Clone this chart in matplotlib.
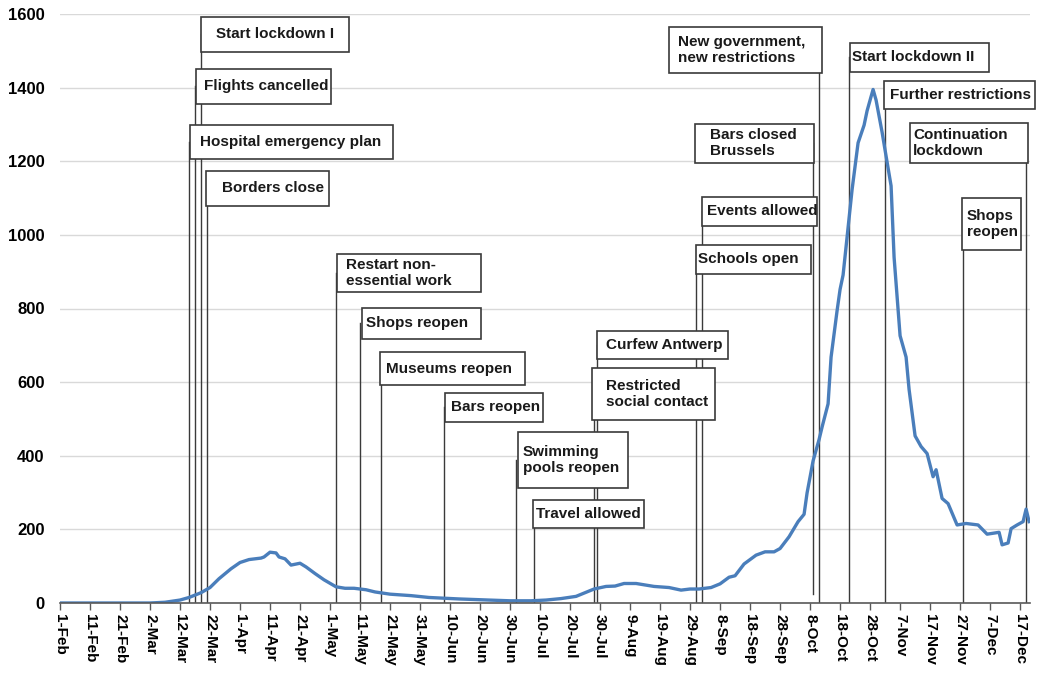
"""Daily COVID-19 curve (Belgium, 2020) with policy event annotations."""

import matplotlib
matplotlib.use("Agg")
import matplotlib.pyplot as plt
import matplotlib.dates as mdates
from matplotlib.patches import Rectangle
import pandas as pd

# --- data -------------------------------------------------------------
DATES = [
    "2020-02-01", "2020-03-02", "2020-03-07", "2020-03-12", "2020-03-15",
    "2020-03-19", "2020-03-22", "2020-03-25", "2020-03-29", "2020-04-01",
    "2020-04-04", "2020-04-08", "2020-04-09", "2020-04-11", "2020-04-13",
    "2020-04-14", "2020-04-16", "2020-04-18", "2020-04-21", "2020-04-23",
    "2020-04-26", "2020-04-29", "2020-05-03", "2020-05-06", "2020-05-09",
    "2020-05-13", "2020-05-16", "2020-05-21", "2020-05-28", "2020-06-03",
    "2020-06-13", "2020-06-23", "2020-06-30", "2020-07-07", "2020-07-12",
    "2020-07-17", "2020-07-22", "2020-07-25", "2020-07-28", "2020-08-01",
    "2020-08-04", "2020-08-07", "2020-08-11", "2020-08-14", "2020-08-17",
    "2020-08-22", "2020-08-26", "2020-08-29", "2020-09-01", "2020-09-05",
    "2020-09-08", "2020-09-11", "2020-09-13", "2020-09-16", "2020-09-20",
    "2020-09-23", "2020-09-26", "2020-09-28", "2020-10-01", "2020-10-04",
    "2020-10-06", "2020-10-07", "2020-10-09", "2020-10-11", "2020-10-12",
    "2020-10-14", "2020-10-15", "2020-10-17", "2020-10-18", "2020-10-19",
    "2020-10-20", "2020-10-22", "2020-10-24", "2020-10-26", "2020-10-27",
    "2020-10-29", "2020-10-30", "2020-11-01", "2020-11-02", "2020-11-04",
    "2020-11-05", "2020-11-07", "2020-11-09", "2020-11-10", "2020-11-12",
    "2020-11-14", "2020-11-16", "2020-11-18", "2020-11-19", "2020-11-21",
    "2020-11-23", "2020-11-26", "2020-11-29", "2020-12-03", "2020-12-06",
    "2020-12-10", "2020-12-11", "2020-12-13", "2020-12-14", "2020-12-16",
    "2020-12-18", "2020-12-19", "2020-12-20",
]
VALUES = [
    0, 0, 2, 8, 15,
    28, 42, 66, 93, 110,
    118, 122, 125, 138, 136,
    125, 120, 103, 108, 98,
    80, 63, 44, 40, 40,
    36, 30, 24, 20, 15,
    11, 8, 6, 6, 8,
    12, 18, 28, 38, 45,
    46, 53, 53, 49, 45,
    42, 35, 38, 38, 42,
    52, 70, 74, 106, 130,
    139, 139, 148, 180, 221,
    241, 299, 386, 444, 478,
    541, 668, 794, 852, 891,
    968, 1123, 1250, 1298, 1337,
    1395, 1366, 1279, 1230, 1133,
    939, 726, 668, 580, 454,
    425, 406, 343, 362, 284,
    270, 212, 216, 212, 187,
    192, 158, 163, 202, 212,
    221, 255, 221,
]

EVENT_LABELS = [
    "Hospital emergency plan", "Flights cancelled", "Start lockdown I",
    "Borders close", "Restart non-\nessential work", "Shops reopen",
    "Museums reopen", "Bars reopen", "Swimming\npools reopen",
    "Travel allowed", "Restricted\nsocial contact", "Curfew Antwerp",
    "Schools open", "Events allowed", "Bars closed\nBrussels",
    "New government,\nnew restrictions", "Start lockdown II",
    "Further restrictions", "Shops\nreopen", "Continuation\nlockdown",
]
EVENT_DATES = [
    "2020-03-15", "2020-03-17", "2020-03-19", "2020-03-21", "2020-05-03",
    "2020-05-11", "2020-05-18", "2020-06-08", "2020-07-02", "2020-07-08",
    "2020-07-28", "2020-07-29", "2020-08-31", "2020-09-02", "2020-10-09",
    "2020-10-11", "2020-10-21", "2020-11-02", "2020-11-28", "2020-12-19",
]

# --- layout: label box (x0 day, x1 day, y low, y high, text x day) -----
BOXES = [
    (43.3, 111.0, 1207, 1299, 46.7),
    (45.3, 90.3, 1356, 1451, 48.0),
    (47.0, 96.3, 1497, 1592, 52.0),
    (48.7, 89.7, 1079, 1174, 54.0),
    (92.3, 140.3, 845, 948, 95.3),
    (100.7, 140.3, 717, 802, 102.0),
    (106.7, 155.0, 592, 682, 108.7),
    (128.3, 161.0, 492, 571, 130.3),
    (152.7, 189.3, 313, 465, 154.3),
    (157.7, 194.7, 204, 280, 158.7),
    (177.3, 218.3, 497, 639, 182.0),
    (179.0, 222.7, 663, 739, 182.0),
    (212.0, 250.3, 894, 973, 212.7),
    (214.0, 252.3, 1024, 1103, 215.7),
    (211.7, 251.3, 1196, 1302, 216.7),
    (203.0, 254.0, 1440, 1565, 206.0),
    (263.3, 309.7, 1443, 1522, 264.0),
    (274.7, 325.0, 1342, 1418, 276.7),
    (300.7, 320.3, 959, 1100, 302.3),
    (283.3, 322.7, 1196, 1304, 284.3),
]
LINE_FLOOR = {"Bars closed\nBrussels": 25}

CURVE_COLOR = "#4a7ebb"
EDGE_COLOR = "#3a3a3a"
GRID_COLOR = "#d9d9d9"
FONT = "Liberation Sans"

start = pd.Timestamp("2020-02-01")
x0 = mdates.date2num(start)

fig = plt.figure(figsize=(10.37, 6.73), dpi=100)
ax = fig.add_axes([60 / 1037, 70 / 673, 970 / 1037, 589 / 673])

# grid
ax.set_ylim(0, 1600)
ax.set_xlim(x0, x0 + 323.3)
ax.set_yticks(range(0, 1601, 200))
ax.yaxis.grid(True, color=GRID_COLOR, linewidth=1.0, zorder=0)
ax.set_axisbelow(True)

# event lines + boxes
for label, d, box in zip(EVENT_LABELS, EVENT_DATES, BOXES):
    xd = mdates.date2num(pd.Timestamp(d))
    bx0, bx1, ylo, yhi, tx = box
    ax.plot([xd, xd], [LINE_FLOOR.get(label, 0), (ylo + yhi) / 2],
            color=EDGE_COLOR, linewidth=1.0, zorder=2)
    rect = Rectangle((x0 + bx0, ylo), bx1 - bx0, yhi - ylo,
                     facecolor="white", edgecolor=EDGE_COLOR,
                     linewidth=1.2, zorder=4, clip_on=False)
    ax.add_patch(rect)
    ax.text(x0 + tx, (ylo + yhi) / 2, label, ha="left", va="center",
            fontsize=11, fontweight="bold", family=FONT, color="#1a1a1a",
            linespacing=1.15, zorder=5, clip_on=False)

# curve
ax.plot(pd.to_datetime(DATES), VALUES, color=CURVE_COLOR, linewidth=2.4,
        solid_joinstyle="round", zorder=3)

# axes styling
ticks = pd.date_range("2020-02-01", "2020-12-17", freq="10D")
ax.set_xticks(mdates.date2num(ticks))
ax.set_xticklabels([f"{t.day}-{t.strftime('%b')}" for t in ticks],
                   rotation=-90, ha="center", va="top",
                   fontsize=11, fontweight="bold", family=FONT)
ax.set_yticklabels([str(v) for v in range(0, 1601, 200)],
                   fontsize=12, fontweight="bold", family=FONT)
ax.tick_params(axis="y", length=0, pad=11)
ax.tick_params(axis="x", direction="out", length=5, width=1.0,
               color="#595959", pad=3)
for side in ("left", "right", "top"):
    ax.spines[side].set_visible(False)
ax.spines["bottom"].set_color("#595959")
ax.spines["bottom"].set_linewidth(1.2)
ax.spines["bottom"].set_zorder(6)

fig.savefig("out.png", dpi=100, facecolor="white")
